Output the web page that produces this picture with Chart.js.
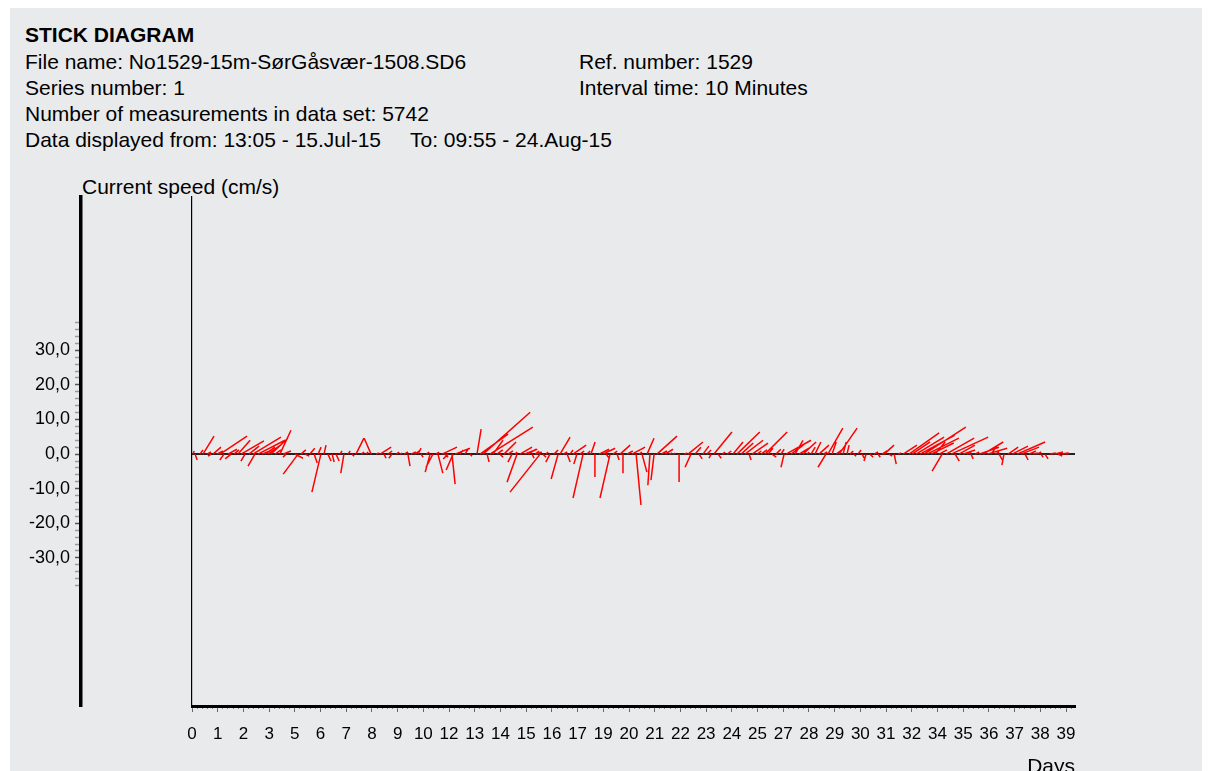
<!DOCTYPE html>
<html>
<head>
<meta charset="utf-8">
<script src="https://cdn.jsdelivr.net/npm/chart.js@4.4.0/dist/chart.umd.min.js"></script>
<style>
html, body { margin: 0; padding: 0; background: #fff; overflow: hidden; }
#frame { position: absolute; left: 10px; top: 8px; width: 1192px; height: 770px; background: #e9eaec; }
.txt { position: absolute; font-family: "Liberation Sans", Arial, sans-serif; font-size: 21px; line-height: 26px; color: #000; white-space: pre; }
#plot { position: absolute; left: 0; top: 190px; }
</style>
</head>
<body>
<div id="frame"></div>
<div class="txt" style="left:25px;top:22px;font-weight:bold">STICK DIAGRAM</div>
<div class="txt" style="left:25px;top:49px">File name: No1529-15m-SørGåsvær-1508.SD6</div>
<div class="txt" style="left:579px;top:49px">Ref. number: 1529</div>
<div class="txt" style="left:25px;top:75px">Series number: 1</div>
<div class="txt" style="left:579px;top:75px">Interval time: 10 Minutes</div>
<div class="txt" style="left:25px;top:101px">Number of measurements in data set: 5742</div>
<div class="txt" style="left:25px;top:127px">Data displayed from: 13:05 - 15.Jul-15</div>
<div class="txt" style="left:410px;top:127px">To: 09:55 - 24.Aug-15</div>
<div class="txt" style="left:82px;top:174px">Current speed (cm/s)</div>
<canvas id="plot" width="1211" height="590" style="width:1211px;height:590px"></canvas>
<script>
// x tick labels (days, as printed under each major tick)
var xTickLabels = ['0','1','2','3','5','6','7','8','9','10','12','13','14','15','16','17','19','20','21',
  '22','23','24','25','27','28','29','30','31','32','34','35','36','37','38','39'];
var yTickLabelled = [30, 20, 10, 0, -10, -20, -30];

// time of each stick (days from 13:05 15.Jul-15)
var stickDay = [
  0.05, 0.14, 0.36, 0.50, 0.68, 0.87, 0.96, 1.14, 1.28, 1.46,
  1.64, 1.78, 1.92, 2.10, 2.24, 2.42, 2.60, 2.78, 2.87, 3.01,
  3.19, 3.33, 3.47, 3.60, 3.79, 4.01, 4.15, 4.29, 4.70, 4.84,
  4.97, 5.16, 5.38, 5.57, 5.75, 5.88, 6.02, 6.20, 6.39, 6.57,
  6.75, 6.93, 7.12, 7.30, 7.48, 7.71, 7.94, 8.17, 8.39, 8.58,
  8.76, 8.94, 9.12, 9.31, 9.49, 9.67, 9.85, 9.99, 10.17, 10.31,
  10.45, 10.68, 10.86, 10.99, 11.13, 11.22, 11.41, 11.54, 11.68, 11.86,
  11.91, 12.00, 12.23, 12.45, 12.68, 13.00, 13.14, 13.28, 13.46, 13.59,
  13.73, 13.91, 14.05, 14.23, 14.42, 14.60, 14.74, 14.83, 14.96, 15.15,
  15.33, 15.51, 15.65, 15.69, 15.88, 16.01, 16.15, 16.33, 16.51, 16.70,
  16.79, 16.93, 17.11, 17.24, 17.38, 17.56, 17.70, 17.84, 18.02, 18.20,
  18.38, 18.57, 18.75, 18.89, 19.07, 19.21, 19.39, 19.53, 19.66, 19.84,
  20.07, 20.26, 20.39, 20.53, 20.76, 20.89, 21.08, 21.21, 21.40, 21.58,
  21.76, 21.94, 22.22, 22.45, 22.63, 22.76, 22.95, 23.13, 23.31, 23.49,
  23.68, 23.81, 24.00, 24.18, 24.41, 24.68, 24.86, 25.05, 25.23, 25.41,
  25.55, 25.78, 25.96, 26.14, 26.28, 26.46, 26.64, 26.87, 27.01, 27.10,
  27.33, 27.51, 27.69, 27.87, 28.06, 28.24, 28.42, 28.60, 28.79, 28.92,
  29.01, 29.20, 29.38, 29.52, 29.70, 29.88, 30.02, 30.20, 30.38, 30.57,
  30.75, 30.93, 31.11, 31.30, 31.48, 31.57, 31.80, 32.03, 32.21, 32.44,
  32.71, 32.85, 33.03, 33.21, 33.39, 33.53, 33.71, 33.90, 34.08, 34.22,
  34.40, 34.63, 34.81, 34.99, 35.17, 35.36, 35.54, 35.72, 35.90, 36.09,
  36.27, 36.45, 36.63, 36.82, 37.04, 37.23, 37.41, 37.64, 37.82, 38.00,
  38.18, 38.37, 38.55, 38.73, 38.91, 39.14, 39.37, 39.51, 39.69, 39.87
];
// east component (cm/s)
var stickEast = [
  0.3, 0.6, 0.9, 3.2, 1.2, -0.9, 2.3, 1.7, 7.8, -1.2,
  2.6, -1.7, 1.4, 3.5, 6.6, -1.2, 2.9, 8.1, -2.0, 7.8,
  2.3, 2.9, 4.0, 4.9, 1.7, 3.2, 2.3, -0.9, 2.3, -4.3,
  1.4, 1.2, 1.4, 0.9, 0.9, -2.6, 0.6, 0.9, 0.6, 0.9,
  0.6, -0.9, 0.6, 0.6, 2.3, 0.9, 0.6, -2.0, 0.9, 3.2,
  0.6, 1.2, -0.9, 0.9, 0.6, 1.2, 0.6, 1.4, 1.2, 0.9,
  0.6, 0.9, -1.4, -2.0, 0.9, 1.4, 4.3, 0.9, -1.4, 0.9,
  -2.0, 4.3, 0.9, 0.9, 0.6, 1.2, 8.1, 13.6, 0.6, 12.4,
  2.9, 1.7, 0.9, 3.5, 1.4, -1.2, 0.6, -2.9, 3.5, 3.8,
  2.3, 0.6, 1.2, 1.7, -8.7, 0.9, 0.6, -1.2, 1.2, -2.0,
  2.9, 1.2, 0.9, 0.9, 3.8, -0.9, 1.2, -2.9, 0.9, 1.2,
  0.0, 2.9, 3.5, 0.9, -2.9, 1.2, 0.6, 2.9, 0.0, 1.7,
  3.8, 1.4, 0.9, 1.4, 2.0, -0.6, -0.9, 5.8, 1.7, 2.3,
  0.9, 0.6, 0.0, 0.9, 4.3, -1.7, 1.7, 0.9, 1.7, 1.2,
  -0.6, 5.2, 0.9, 0.9, 1.2, 2.9, 6.6, 3.5, 5.2, 0.6,
  4.6, 1.2, 1.7, 6.4, 1.4, 1.2, 1.4, 0.9, -0.9, 7.2,
  3.5, 2.3, 2.9, 3.8, 0.6, 1.2, 1.7, 2.9, 1.2, -2.3,
  4.3, 1.2, 1.7, 5.2, 0.9, 0.6, 0.9, 0.6, 0.9, 0.6,
  -0.6, 0.9, 1.2, 0.6, 1.4, 2.9, 0.9, 0.6, 0.9, 4.0,
  8.7, 5.2, 8.1, 10.1, 12.1, 9.2, 6.6, 2.9, 2.3, -2.9,
  8.1, 10.7, 1.2, 4.6, 3.5, 1.2, 0.6, 1.2, 5.8, 5.8,
  5.8, 1.7, 1.2, 0.9, -0.6, 2.9, 4.6, 8.1, 5.2, 0.9,
  2.0, 1.4, 1.2, 0.6, 0.9, 1.7, 2.3, 1.2, 1.7, 0.9
];
// north component (cm/s)
var stickNorth = [
  0.9, -1.7, 1.2, 5.2, 0.6, -0.6, 2.0, 0.9, 5.2, -1.7,
  1.4, -1.4, 1.2, 4.0, 3.8, -2.0, 2.3, 4.9, -3.5, 4.0,
  0.9, 2.0, 2.9, 4.6, 1.2, 6.9, 0.9, -0.9, -1.2, -5.8,
  1.2, -0.6, 1.7, -2.6, 2.0, -11.0, 2.6, -2.0, -2.3, -2.0,
  0.9, -5.5, 0.9, -0.6, 4.6, 0.6, 0.6, 4.6, 0.3, 2.0,
  -1.2, 0.9, -1.2, 0.6, 0.3, 0.6, -3.5, 0.6, 0.9, 1.7,
  -0.9, 0.6, -5.2, -3.8, 0.6, -5.5, 2.0, -0.9, -1.4, -8.7,
  -4.6, 1.7, 1.2, 1.4, -0.6, 7.2, 5.8, 12.1, -2.3, 7.8,
  4.0, 1.2, -0.9, 3.5, 0.9, -2.3, 0.6, -8.1, 2.0, 1.4,
  1.4, -1.2, 0.9, 0.6, -11.0, -0.9, 0.6, -2.3, 1.2, -7.2,
  4.9, 0.6, -2.3, 1.2, 2.6, -2.9, 0.9, -12.7, 0.9, 3.5,
  -6.6, 1.4, 1.7, -1.2, -12.7, 0.9, -1.7, 2.6, -5.5, 0.9,
  2.0, -14.7, 0.6, -5.2, 4.6, -9.0, -7.5, 5.2, 0.9, 1.4,
  0.3, 0.3, -8.1, 0.3, 3.5, -3.8, 2.0, -1.4, 2.3, 1.2,
  -1.2, 6.4, -1.2, 0.6, 0.9, 3.5, 6.4, 3.2, 4.0, -1.7,
  3.2, 0.9, 1.2, 6.4, 1.7, -0.9, 1.4, 1.4, -3.8, 4.0,
  2.6, 4.0, 1.7, 3.5, 0.6, 2.0, 3.5, 2.6, 0.6, -3.8,
  7.5, 3.5, 1.2, 7.5, 3.5, 2.6, 0.9, -0.6, 1.2, -1.2,
  -2.0, -0.9, 0.6, -0.9, 0.9, 2.6, -0.6, -2.9, 0.3, 2.6,
  6.1, 3.5, 4.9, 5.5, 7.8, 4.6, 3.2, 3.5, 1.2, -4.9,
  4.6, 4.9, -2.0, 2.6, 1.2, 0.6, -1.4, 0.6, 2.0, 3.5,
  1.7, 2.3, 0.6, -1.7, -3.2, 2.0, 2.3, 3.5, 2.0, -1.7,
  0.9, 0.3, 0.6, -0.9, -1.4, 0.3, 0.6, -0.6, 0.3, 0.3
];

var fontFam = '"Liberation Sans", Arial, sans-serif';
var totalDays = 39.87;           // 13:05 15.Jul -> 09:55 24.Aug
var dayStep = totalDays / 34;    // spacing of the labelled ticks
var xMax = 40.28;
var yMin = -72.8, yMax = 74.3;
var plotW = 883, plotH = 509;
// sticks keep their true angle: cm/s on the time axis uses same pixels as on the speed axis
var daysPerCms = (plotH / (yMax - yMin)) * (xMax / plotW);

var stickPoints = [];
for (var i = 0; i < stickDay.length; i++) {
  stickPoints.push({x: stickDay[i], y: 0});
  stickPoints.push({x: stickDay[i] + stickEast[i] * daysPerCms, y: stickNorth[i]});
  stickPoints.push({x: stickDay[i], y: null});
}

var yTicks = [];
for (var v = -38; v <= 38; v += 2) yTicks.push(v);
var xMinorTicks = [];
for (var k = 0; k * dayStep / 5 <= xMax; k++) xMinorTicks.push(k * dayStep / 5);

function commaFmt(v) { return v.toFixed(1).replace('.', ','); }

Chart.defaults.font.family = fontFam;
Chart.defaults.color = '#000';

var ctx = document.getElementById('plot').getContext('2d');
var chart = new Chart(ctx, {
  type: 'scatter',
  data: {
    datasets: [
      {
        label: 'sticks',
        data: stickPoints,
        showLine: true,
        spanGaps: false,
        borderColor: '#ff0000',
        borderWidth: 1.5,
        pointRadius: 0,
        order: 0
      },
      {
        label: 'zero',
        data: [{x: 0, y: 0}, {x: xMax, y: 0}],
        showLine: true,
        borderColor: '#222',
        borderWidth: 2,
        pointRadius: 0,
        order: 1
      }
    ]
  },
  options: {
    responsive: false,
    animation: false,
    events: [],
    layout: { padding: { top: 7, left: 0, right: 136, bottom: 0 } },
    plugins: { legend: { display: false }, tooltip: { enabled: false } },
    scales: {
      x: {
        type: 'linear', position: 'bottom', weight: 1, min: 0, max: xMax,
        afterBuildTicks: function (s) { s.ticks = xTickLabels.map(function (l, i) { return {value: i * dayStep}; }); },
        afterFit: function (s) { s.height = 74; s.paddingLeft = 0; s.paddingRight = 0; },
        ticks: {
          autoSkip: false, maxRotation: 0, padding: 12, color: '#000',
          font: {size: 17},
          callback: function (v, i) { return xTickLabels[i]; }
        },
        grid: { drawOnChartArea: false, tickLength: 6, tickColor: '#666', tickWidth: 1 },
        border: { color: '#000', width: 3 },
        title: { display: true, text: 'Days', align: 'end', color: '#000', font: {size: 21}, padding: {top: 4, bottom: 0} }
      },
      xMinor: {
        type: 'linear', position: 'bottom', weight: 0, min: 0, max: xMax,
        afterBuildTicks: function (s) { s.ticks = xMinorTicks.map(function (t) { return {value: t}; }); },
        afterFit: function (s) { s.height = 0; s.paddingLeft = 0; s.paddingRight = 0; },
        ticks: { display: false },
        grid: { drawOnChartArea: false, tickLength: 3, tickColor: '#888', tickWidth: 1 },
        border: { display: false }
      },
      y: {
        type: 'linear', position: 'left', weight: 1, min: yMin, max: yMax,
        afterBuildTicks: function (s) { s.ticks = yTicks.map(function (t) { return {value: t}; }); },
        afterFit: function (s) { s.width = 81; s.paddingTop = 0; s.paddingBottom = 0; },
        ticks: {
          autoSkip: false, padding: 5, color: '#000', font: {size: 18},
          callback: function (v) { return yTickLabelled.indexOf(v) >= 0 ? commaFmt(v) : ''; }
        },
        grid: {
          drawOnChartArea: false, tickLength: 6, tickWidth: 1.5,
          tickColor: function (c) { return c.tick && c.tick.value % 10 === 0 ? '#555' : '#999'; }
        },
        border: { color: '#000', width: 3.5 }
      },
      yGap: {
        type: 'linear', position: 'left', weight: 0, min: yMin, max: yMax,
        afterFit: function (s) { s.width = 111; s.paddingTop = 0; s.paddingBottom = 0; },
        ticks: { display: false },
        grid: { display: false },
        border: { display: true, color: '#000', width: 1.2 }
      }
    }
  }
});
</script>
</body>
</html>
